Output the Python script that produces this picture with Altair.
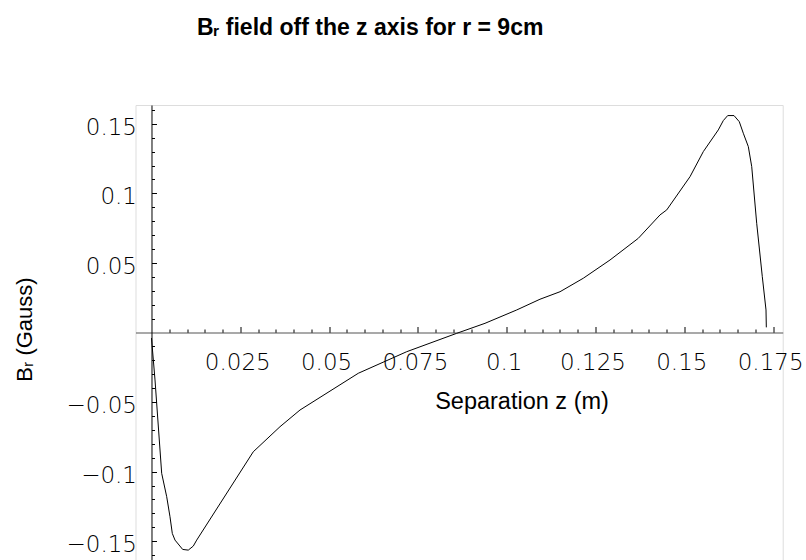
import altair as alt
import pandas as pd

# Curve (z in m, B_r in Gauss)
z_m = [0.0, 0.00099, 0.00287, 0.00428, 0.00521, 0.00586, 0.00662, 0.00878, 0.01036, 0.01177,
       0.01273, 0.02866, 0.03618, 0.04181, 0.05822, 0.07185, 0.08592, 0.09389, 0.10282, 0.10937,
       0.11501, 0.12157, 0.12908, 0.13705, 0.14316, 0.14505, 0.15161, 0.15535, 0.15957, 0.16098,
       0.16222, 0.16399, 0.16548, 0.16661, 0.16802, 0.16898, 0.17038, 0.17196, 0.17300, 0.17309]
br_gauss = [-0.0040, -0.0341, -0.1012, -0.1180, -0.1324, -0.1444, -0.1492, -0.1559, -0.1564, -0.1535,
            -0.1492, -0.0857, -0.0677, -0.0557, -0.0293, -0.0138, -0.0006, 0.0066, 0.0162, 0.0239,
            0.0293, 0.0390, 0.0521, 0.0677, 0.0845, 0.0881, 0.1120, 0.1300, 0.1456, 0.1523,
            0.1559, 0.1559, 0.1515, 0.1432, 0.1336, 0.1192, 0.0785, 0.0401, 0.0162, 0.0037]

# Ticks and tick labels
x_ticks = [round(0.005 * i, 3) for i in range(1, 36)]
x_label_values = [0.025, 0.05, 0.075, 0.1, 0.125, 0.15, 0.175]
y_ticks = [round(0.01 * i, 2) for i in range(-16, 17) if i != 0]
y_label_values = [-0.15, -0.1, -0.05, 0.05, 0.1, 0.15]

df = pd.DataFrame({"z": z_m, "B": br_gauss, "i": list(range(len(z_m)))})

W = 647.2
H = 455.0
X_DOMAIN = [-0.0045, 0.1777]
Y_DOMAIN = [-0.1635, 0.1635]
x0_px = (0 - X_DOMAIN[0]) / (X_DOMAIN[1] - X_DOMAIN[0]) * W
y0_px = (Y_DOMAIN[1] - 0) / (Y_DOMAIN[1] - Y_DOMAIN[0]) * H

xscale = alt.Scale(domain=X_DOMAIN, nice=False, zero=False)
yscale = alt.Scale(domain=Y_DOMAIN, nice=False, zero=False)

LABEL_FONT = "DejaVu Sans"
TITLE_FONT = "Liberation Sans"

x_tick_axis = alt.Axis(
    orient="top", offset=-y0_px, values=x_ticks, labels=False, grid=False, title=None,
    domainColor="#555555", domainWidth=1.2, tickColor="black", tickWidth=1,
    tickSize={"condition": {"test": "abs(round(datum.value*1000)) % 25 === 0", "value": 6}, "value": 3.5},
)
y_tick_axis = alt.Axis(
    orient="right", offset=-(W - x0_px), values=y_ticks, labels=False, grid=False, title=None,
    domainColor="black", domainWidth=1, tickColor="black", tickWidth=1,
    tickSize={"condition": {"test": "abs(round(datum.value*100)) % 5 === 0", "value": 5}, "value": 3},
)
x_label_axis = alt.Axis(
    orient="bottom", offset=-(H - y0_px), values=x_label_values, domain=False, ticks=False, grid=False,
    labelExpr="replace(format(datum.value, '.3f'), /0+$/, '')",
    labelFont=LABEL_FONT, labelFontSize=23, labelFontWeight=200, labelColor="black",
    labelBaseline="alphabetic", labelPadding=36.8, labelOffset=-3,
    labelOverlap=False, labelFlush=False, labelBound=False,
    title="Separation z (m)", titleFont=TITLE_FONT, titleFontSize=23.5, titleFontWeight="normal",
    titleColor="black", titleX=386, titleY=76, titleAlign="center", titleBaseline="alphabetic",
)
y_label_axis = alt.Axis(
    orient="left", offset=-x0_px, values=y_label_values, domain=False, ticks=False, grid=False,
    labelExpr="replace(replace(format(datum.value, '.2f'), /0+$/, ''), '-', '\u2212')",
    labelFont=LABEL_FONT, labelFontSize=23, labelFontWeight=200, labelColor="black",
    labelBaseline="alphabetic", labelOffset=10.5, labelPadding=15, labelAlign="right",
    labelOverlap=False, labelFlush=False, labelBound=False,
    title="Bᵣ (Gauss)", titleFont=TITLE_FONT, titleFontSize=22, titleFontWeight="normal",
    titleColor="black", titleAngle=270, titleX=-119.8, titleY=224, titleAlign="center",
    titleBaseline="alphabetic",
)

line = alt.Chart(df).mark_line(color="black", strokeWidth=1).encode(
    x=alt.X("z:Q", scale=xscale, axis=x_tick_axis),
    y=alt.Y("B:Q", scale=yscale, axis=y_tick_axis),
    order="i:Q",
)
labels_layer = alt.Chart(df).mark_line(opacity=0).encode(
    x=alt.X("z:Q", scale=xscale, axis=x_label_axis),
    y=alt.Y("B:Q", scale=yscale, axis=y_label_axis),
    order="i:Q",
)

chart = alt.layer(line, labels_layer).properties(
    width=W, height=H,
    title=alt.TitleParams(
        "Bᵣ field off the z axis for r = 9cm", font=TITLE_FONT, fontSize=23, fontWeight="bold",
        anchor="start", frame="group", dx=61.5, offset=47, baseline="alphabetic", color="black",
    ),
    autosize=alt.AutoSizeParams(type="none"),
    padding={"left": 135.5, "top": 105, "right": 23.3, "bottom": 0},
).configure_view(stroke=None).configure(background="white")

chart.save("out.html", embed_options={"renderer": "svg", "actions": False})
